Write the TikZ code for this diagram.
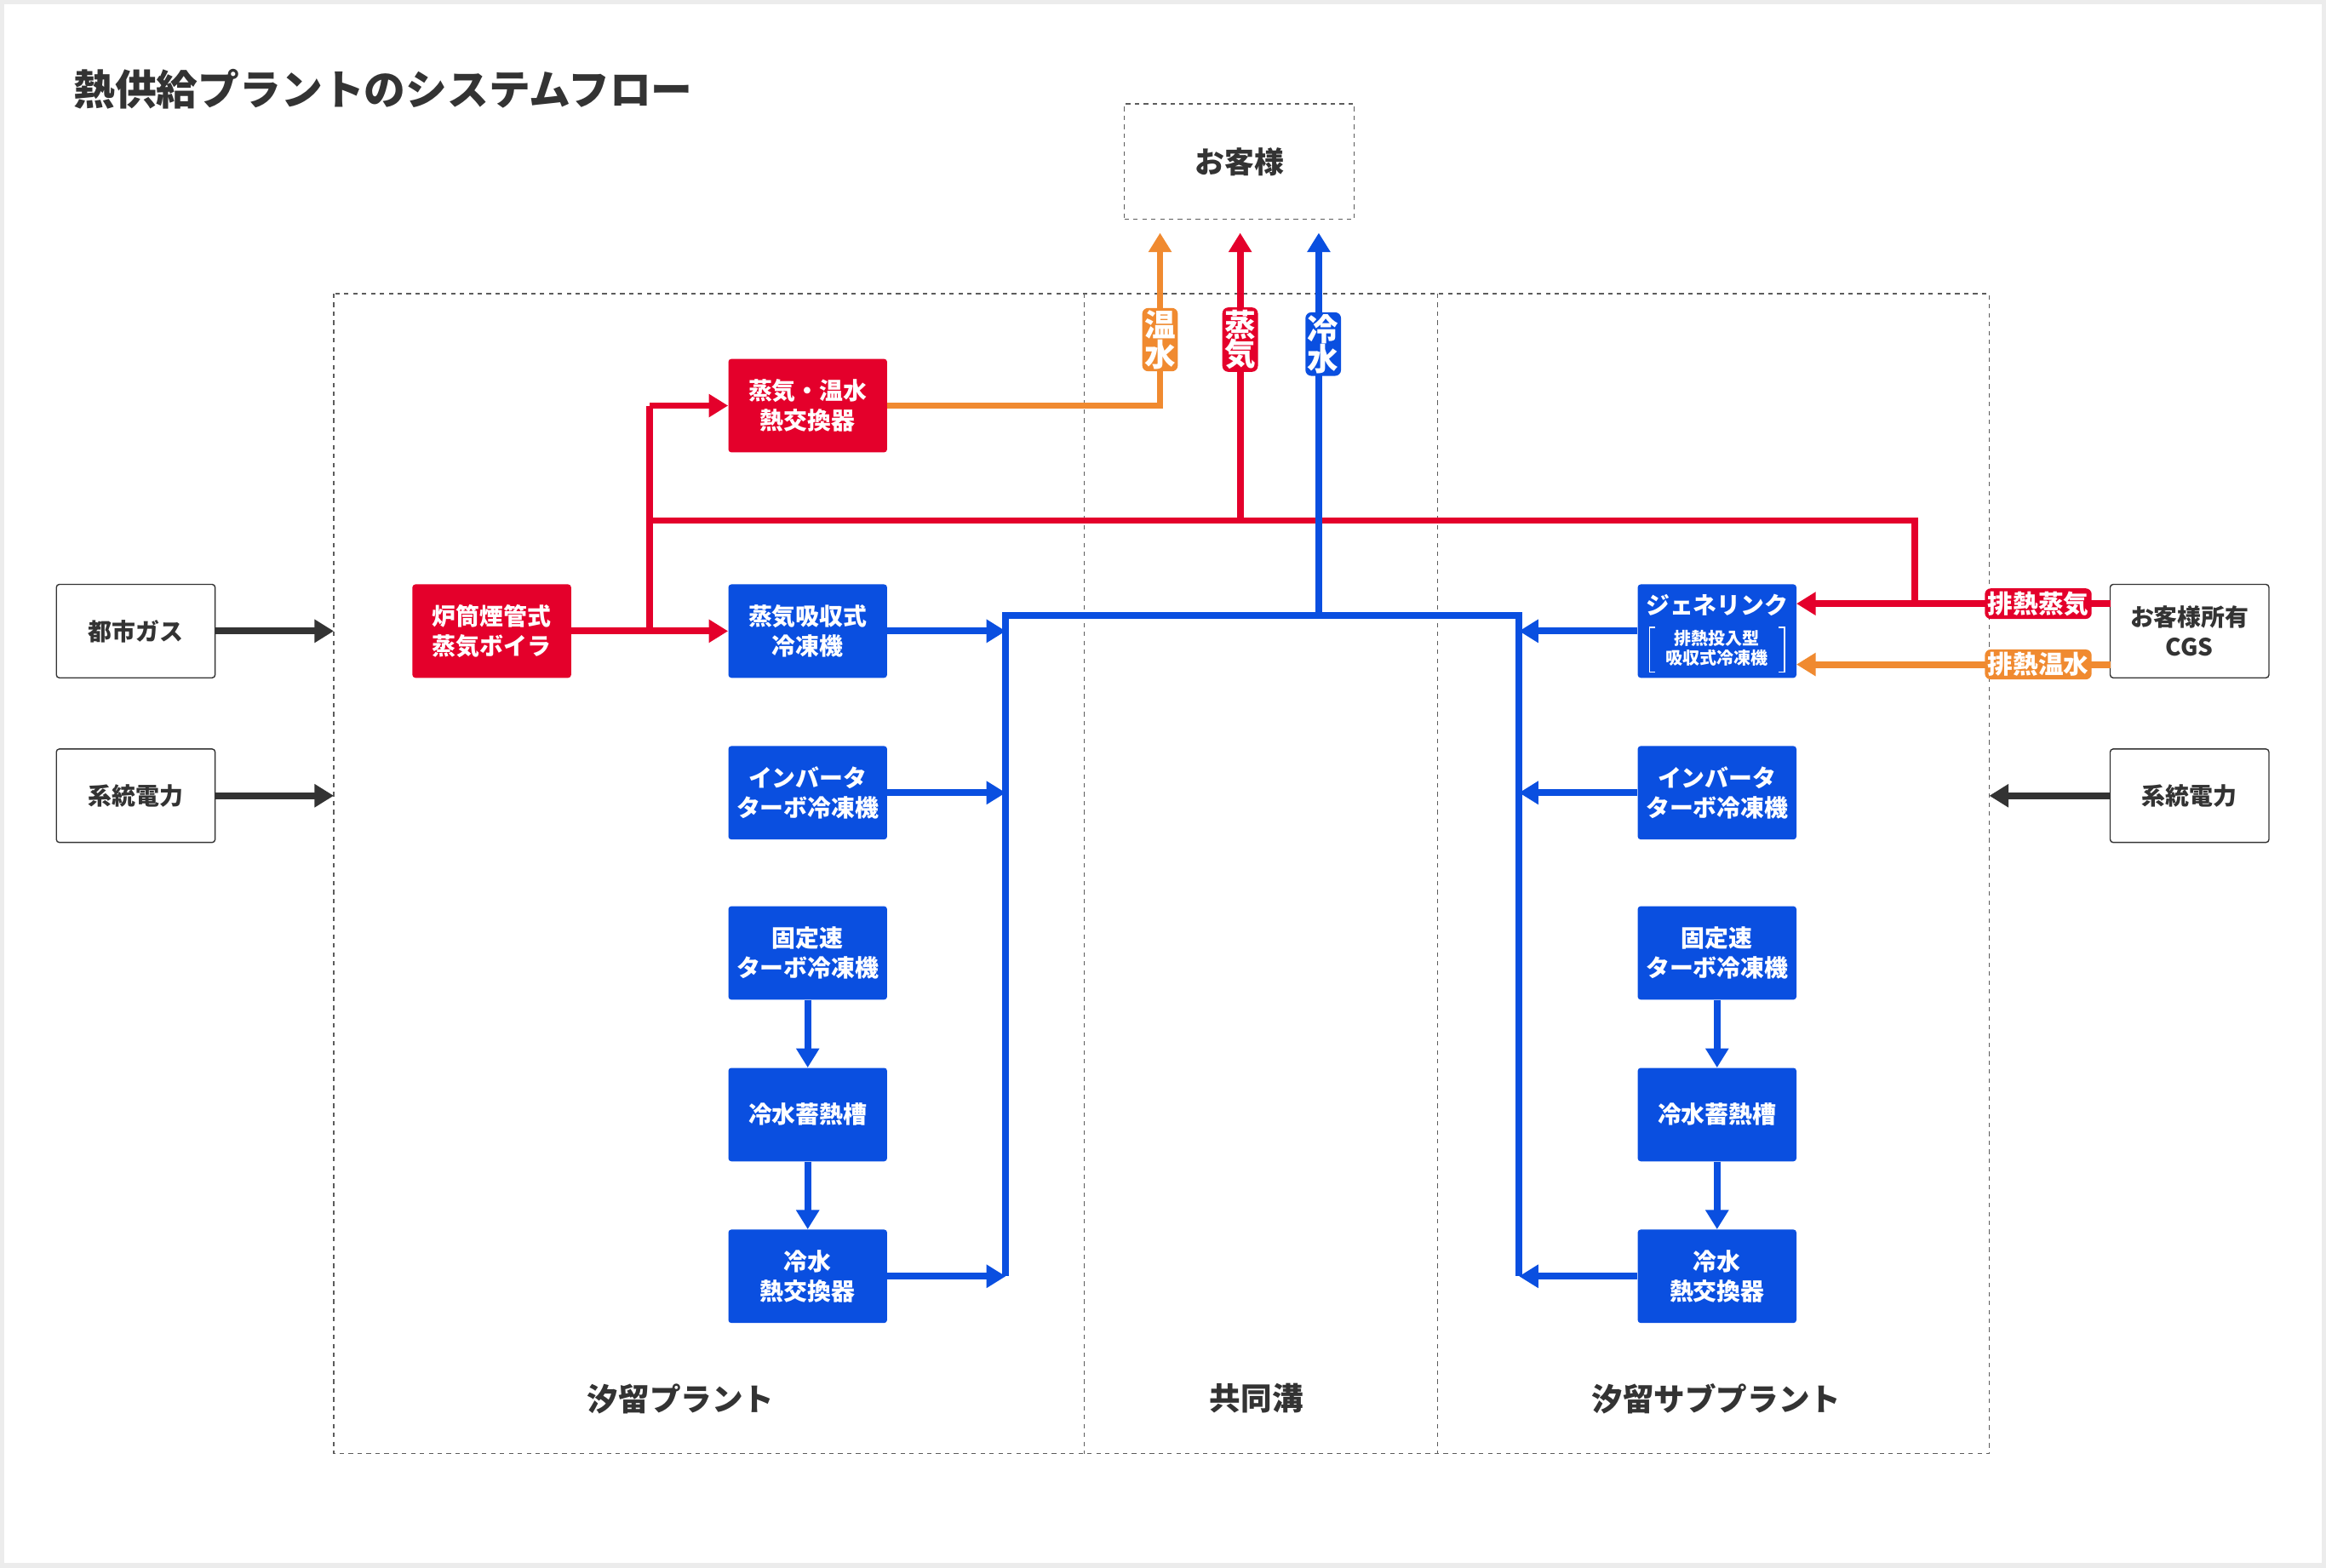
\documentclass[tikz,border=0pt]{standalone}
\usepackage{fontspec}
\setmainfont{Noto Sans CJK JP}
\usetikzlibrary{arrows.meta}
\definecolor{cred}{HTML}{E4002B}
\definecolor{cblue}{HTML}{0A4FE0}
\definecolor{corg}{HTML}{F08A30}
\definecolor{cdark}{HTML}{333333}
\begin{document}
\begin{tikzpicture}[x=1pt,y=-1pt,
  box/.style={draw=none,rounded corners=2pt,minimum width=107pt,minimum height=63pt,inner sep=0pt,align=center,text=white,font=\fontsize{16}{20}\selectfont\bfseries},
  bbox/.style={box,fill=cblue},
  rbox/.style={box,fill=cred},
  wbox/.style={draw=cdark,line width=0.8pt,rounded corners=2pt,fill=white,minimum width=107pt,minimum height=63pt,inner sep=0pt,align=center,text=cdark,font=\fontsize{16}{20}\selectfont\bfseries},
  ln/.style={line width=4.5pt},
  arr/.style={ln,-{Triangle[length=13pt,width=15pt]}},
  lab/.style={rounded corners=4pt,inner sep=2pt,text=white,align=center,font=\fontsize{17}{18}\selectfont\bfseries},
  vlab/.style={lab,font=\fontsize{21}{22}\selectfont\bfseries,inner sep=1.5pt},
  area/.style={draw=cdark!80,dashed,line width=0.7pt},
  atitle/.style={text=cdark,font=\fontsize{21}{24}\selectfont\bfseries}]
\useasboundingbox (0,0) rectangle (1568,1057);
\fill[gray!15] (0,0) rectangle (1568,1057);
\fill[white] (3,3) rectangle (1565,1054);
\node[anchor=west,text=cdark,font=\fontsize{28}{30}\selectfont\bfseries] (title) at (46,60) {熱供給プラントのシステムフロー};
% areas
\draw[area] (225,198) rectangle (1341,980);
\draw[area] (731,198) -- (731,980);
\draw[area] (969,198) -- (969,980);
\node[atitle] (a1) at (459,943) {汐留プラント};
\node[atitle] (a2) at (847,943) {共同溝};
\node[atitle] (a3) at (1157,943) {汐留サブプラント};
% customer
\node[draw=cdark!80,dashed,line width=0.7pt,minimum width=155pt,minimum height=78pt,text=cdark,font=\fontsize{20}{22}\selectfont\bfseries] (cust) at (835.5,109) {お客様};
% inputs
\node[wbox] (gas) at (91.5,425.5) {都市ガス};
\node[wbox] (pw1) at (91.5,536.5) {系統電力};
\node[wbox] (cgs) at (1476,425.5) {お客様所有\\CGS};
\node[wbox] (pw2) at (1476,536.5) {系統電力};
\coordinate (g1) at (225,425.5);
\coordinate (p1) at (225,536.5);
\coordinate (p2) at (1341,536.5);
\draw[arr,cdark] (gas) -- (g1);
\draw[arr,cdark] (pw1) -- (p1);
\draw[arr,cdark] (pw2) -- (p2);
% boxes
\node[rbox] (boil) at (331.5,425.5) {炉筒煙管式\\蒸気ボイラ};
\node[rbox] (hx) at (544.5,273.5) {蒸気・温水\\熱交換器};
\node[bbox] (L1) at (544.5,425.5) {蒸気吸収式\\冷凍機};
\node[bbox] (L2) at (544.5,534.5) {インバータ\\ターボ冷凍機};
\node[bbox] (L3) at (544.5,642.5) {固定速\\ターボ冷凍機};
\node[bbox] (L4) at (544.5,751.5) {冷水蓄熱槽};
\node[bbox] (L5) at (544.5,860.5) {冷水\\熱交換器};
\node[bbox] (R1) at (1157.5,425.5) {};
\node[bbox] (R2) at (1157.5,534.5) {インバータ\\ターボ冷凍機};
\node[bbox] (R3) at (1157.5,642.5) {固定速\\ターボ冷凍機};
\node[bbox] (R4) at (1157.5,751.5) {冷水蓄熱槽};
\node[bbox] (R5) at (1157.5,860.5) {冷水\\熱交換器};
\node[text=white,font=\fontsize{16}{18}\selectfont\bfseries] (gl) at (1157.5,408) {ジェネリンク};
\node[text=white,align=center,font=\fontsize{11.5}{13}\selectfont\bfseries] (gl2) at (1157.5,437) {排熱投入型\\吸収式冷凍機};
\draw[white,line width=0.9pt] (1116,423) -- (1112,423) -- (1112,453) -- (1116,453);
\draw[white,line width=0.9pt] (1199,423) -- (1203,423) -- (1203,453) -- (1199,453);
\draw[arr,cblue] (L3) -- (L4);
\draw[arr,cblue] (L4) -- (L5);
\draw[arr,cblue] (R3) -- (R4);
\draw[arr,cblue] (R4) -- (R5);
% coordinates
\coordinate (bj) at (438,425.5);
\coordinate (bt) at (438,273.5);
\coordinate (bh) at (438,351);
\coordinate (sj) at (836,351);
\coordinate (rt) at (1291,351);
\coordinate (rb) at (1291,407);
\coordinate (st) at (836,157);
\coordinate (ot) at (782,157);
\coordinate (oc) at (782,273.5);
\coordinate (ct) at (889,157);
\coordinate (cb) at (889,415);
\coordinate (lbT) at (678,415);
\coordinate (lbB) at (678,860.5);
\coordinate (la1) at (678,425.5);
\coordinate (la2) at (678,534.5);
\coordinate (rbT) at (1024,415);
\coordinate (rbB) at (1024,860.5);
\coordinate (ra1) at (1024,425.5);
\coordinate (ra2) at (1024,534.5);
\coordinate (gR) at (1211,407);
\coordinate (gO) at (1211,448);
\coordinate (cR) at (1423,407);
\coordinate (cO) at (1423,448);
% red
\draw[ln,cred] (boil.east) -- (bj);
\draw[arr,cred] (bj) -- (L1.west);
\draw[ln,cred] (bj) -- (bt);
\draw[arr,cred] (bt) -- (hx.west);
\draw[ln,cred,line join=miter] (bh) -- (rt) -- (rb);
\draw[arr,cred] (sj) -- (st);
\draw[arr,cred] (cR) -- (gR);
% orange
\draw[arr,corg,line join=miter] (hx.east) -- (oc) -- (ot);
\draw[arr,corg] (cO) -- (gO);
% blue
\draw[arr,cblue] (cb) -- (ct);
\draw[ln,cblue,line join=miter] (lbB) -- (lbT) -- (rbT) -- (rbB);
\draw[arr,cblue] (L1.east) -- (la1);
\draw[arr,cblue] (L2.east) -- (la2);
\draw[arr,cblue] (L5.east) -- (lbB);
\draw[arr,cblue] (R1.west) -- (ra1);
\draw[arr,cblue] (R2.west) -- (ra2);
\draw[arr,cblue] (R5.west) -- (rbB);
% labels
\node[vlab,fill=corg] (t1) at (782,229) {温\\[-2pt]水};
\node[vlab,fill=cred] (t2) at (836,229) {蒸\\[-2pt]気};
\node[vlab,fill=cblue] (t3) at (892,232) {冷\\[-2pt]水};
\node[lab,fill=cred] (t4) at (1374,407) {排熱蒸気};
\node[lab,fill=corg] (t5) at (1374,448) {排熱温水};
\end{tikzpicture}
\end{document}
